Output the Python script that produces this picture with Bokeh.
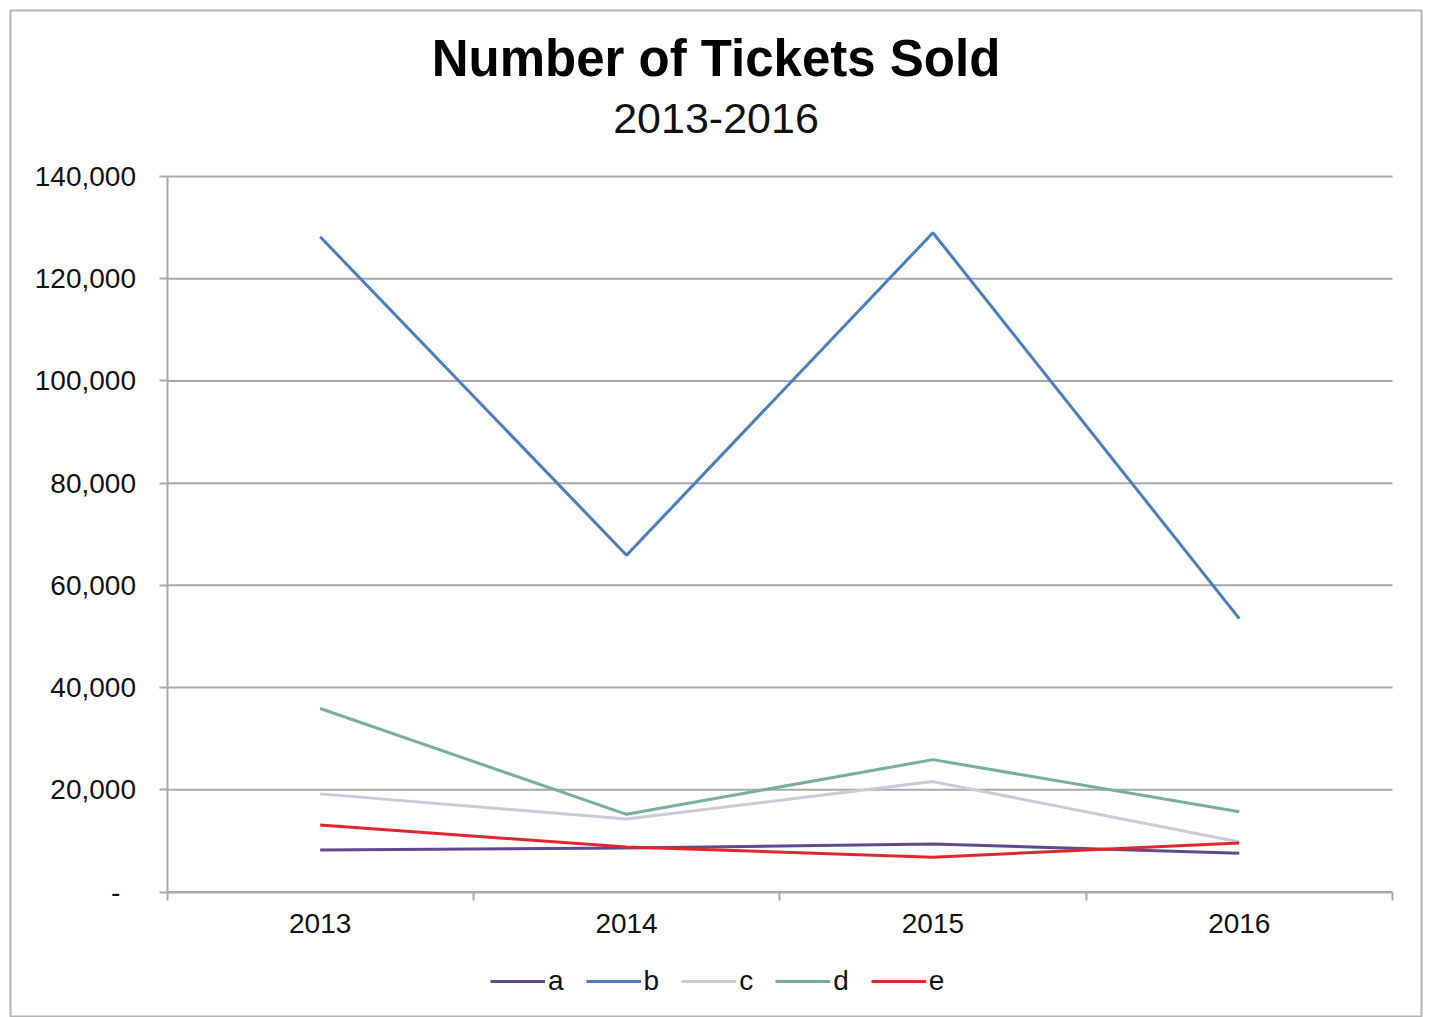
from bokeh.plotting import figure
from bokeh.models import Legend, LegendItem, Label, FixedTicker, NumeralTickFormatter, Range1d
from bokeh.embed import file_html
from bokeh.resources import INLINE

years = [2013, 2014, 2015, 2016]
a = [8200, 8600, 9400, 7600]
b = [128200, 65900, 129000, 53500]
c = [19200, 14300, 21600, 9800]
d = [35900, 15200, 25900, 15700]
e = [13100, 8800, 6800, 9600]
series_names = ["a", "b", "c", "d", "e"]
series_values = [a, b, c, d, e]
colors = ["#5E4A8E", "#4A7CC0", "#C8CAD8", "#78AE9E", "#E2262E"]
y_ticks = [0, 20000, 40000, 60000, 80000, 100000, 120000, 140000]
title_text = "Number of Tickets Sold"
subtitle_text = "2013-2016"

FONT = "Liberation Sans"
GRAY = "#A8A8A8"

# layout in page pixels
W, H = 1431, 1017
BORDER = 10
PLOT_L, PLOT_R, PLOT_T, PLOT_B = 166.5, 1392.0, 176.0, 891.5

x_lo, x_hi = years[0] - 0.5, years[-1] + 0.5
y_lo, y_hi = y_ticks[0], y_ticks[-1]
xs = (PLOT_R - PLOT_L) / (x_hi - x_lo)      # px per year
ys = (PLOT_B - PLOT_T) / (y_hi - y_lo)      # px per ticket

def px_to_x(px):
    return x_lo + (px - PLOT_L) / xs

def py_to_y(py):
    return y_lo + (PLOT_B - py) / ys

p = figure(width=W, height=H, output_backend="svg", toolbar_location=None,
           x_range=Range1d(px_to_x(BORDER), px_to_x(W - BORDER)),
           y_range=Range1d(py_to_y(H), py_to_y(BORDER)),
           min_border_left=BORDER, min_border_right=BORDER, min_border_top=BORDER,
           min_border_bottom=0)
p.outline_line_color = "#B4B4B4"
p.outline_line_width = 2
p.background_fill_color = "white"
p.border_fill_color = "white"

# axes (placed inside the frame at fixed data locations)
p.xaxis.fixed_location = y_lo
p.xaxis.bounds = (x_lo, x_hi)
p.xaxis.ticker = FixedTicker(ticks=years, minor_ticks=[y - 0.5 for y in years] + [x_hi])
p.xaxis.major_tick_out = 0
p.xaxis.major_tick_in = 0
p.xaxis.minor_tick_out = 8
p.xaxis.minor_tick_in = 0
p.xaxis.minor_tick_line_color = GRAY
p.xaxis.minor_tick_line_width = 2
p.xaxis.axis_line_color = GRAY
p.xaxis.axis_line_width = 2
p.xaxis.major_label_standoff = 14
p.xaxis.major_label_text_font = FONT
p.xaxis.major_label_text_font_size = "28px"
p.xaxis.major_label_text_color = "#111111"

p.yaxis.fixed_location = x_lo
p.yaxis.bounds = (y_lo, y_hi)
p.yaxis.ticker = FixedTicker(ticks=y_ticks, minor_ticks=[])
p.yaxis.formatter = NumeralTickFormatter(format="0,0")
p.yaxis.major_label_overrides = {0: "-\u00a0\u00a0"}
p.yaxis.major_tick_out = 8
p.yaxis.major_tick_in = 0
p.yaxis.major_tick_line_color = GRAY
p.yaxis.major_tick_line_width = 2
p.yaxis.axis_line_color = GRAY
p.yaxis.axis_line_width = 2
p.yaxis.major_label_standoff = 23
p.yaxis.major_label_text_font = FONT
p.yaxis.major_label_text_font_size = "28px"
p.yaxis.major_label_text_color = "#111111"

p.xgrid.visible = False
p.ygrid.visible = False
# horizontal grid lines limited to the plot area
p.segment(x0=[x_lo] * len(y_ticks), x1=[x_hi] * len(y_ticks), y0=y_ticks, y1=y_ticks,
          line_color=GRAY, line_width=2)

items = []
for name, vals, col in zip(series_names, series_values, colors):
    r = p.line(years, vals, line_color=col, line_width=3)
    items.append(LegendItem(label=name, renderers=[r]))

legend = Legend(items=items, orientation="horizontal", location=(480, 20),
                glyph_width=55, glyph_height=30, label_height=30, label_width=1,
                label_standoff=3, spacing=22, padding=0, margin=0,
                border_line_color=None, background_fill_alpha=0, label_text_font=FONT,
                label_text_font_size="28px", label_text_color="#111111")
p.add_layout(legend, "center")

xc = px_to_x(715.5)
p.add_layout(Label(x=xc, y=py_to_y(58), text=title_text, text_align="center",
                   text_baseline="alphabetic", text_font=FONT, text_font_size="51px",
                   text_font_style="bold", text_color="black"))
p.add_layout(Label(x=xc, y=py_to_y(118), text=subtitle_text, text_align="center",
                   text_baseline="alphabetic", text_font=FONT, text_font_size="43px",
                   text_color="#111111"))

open("out.html", "w").write(file_html(p, INLINE))
